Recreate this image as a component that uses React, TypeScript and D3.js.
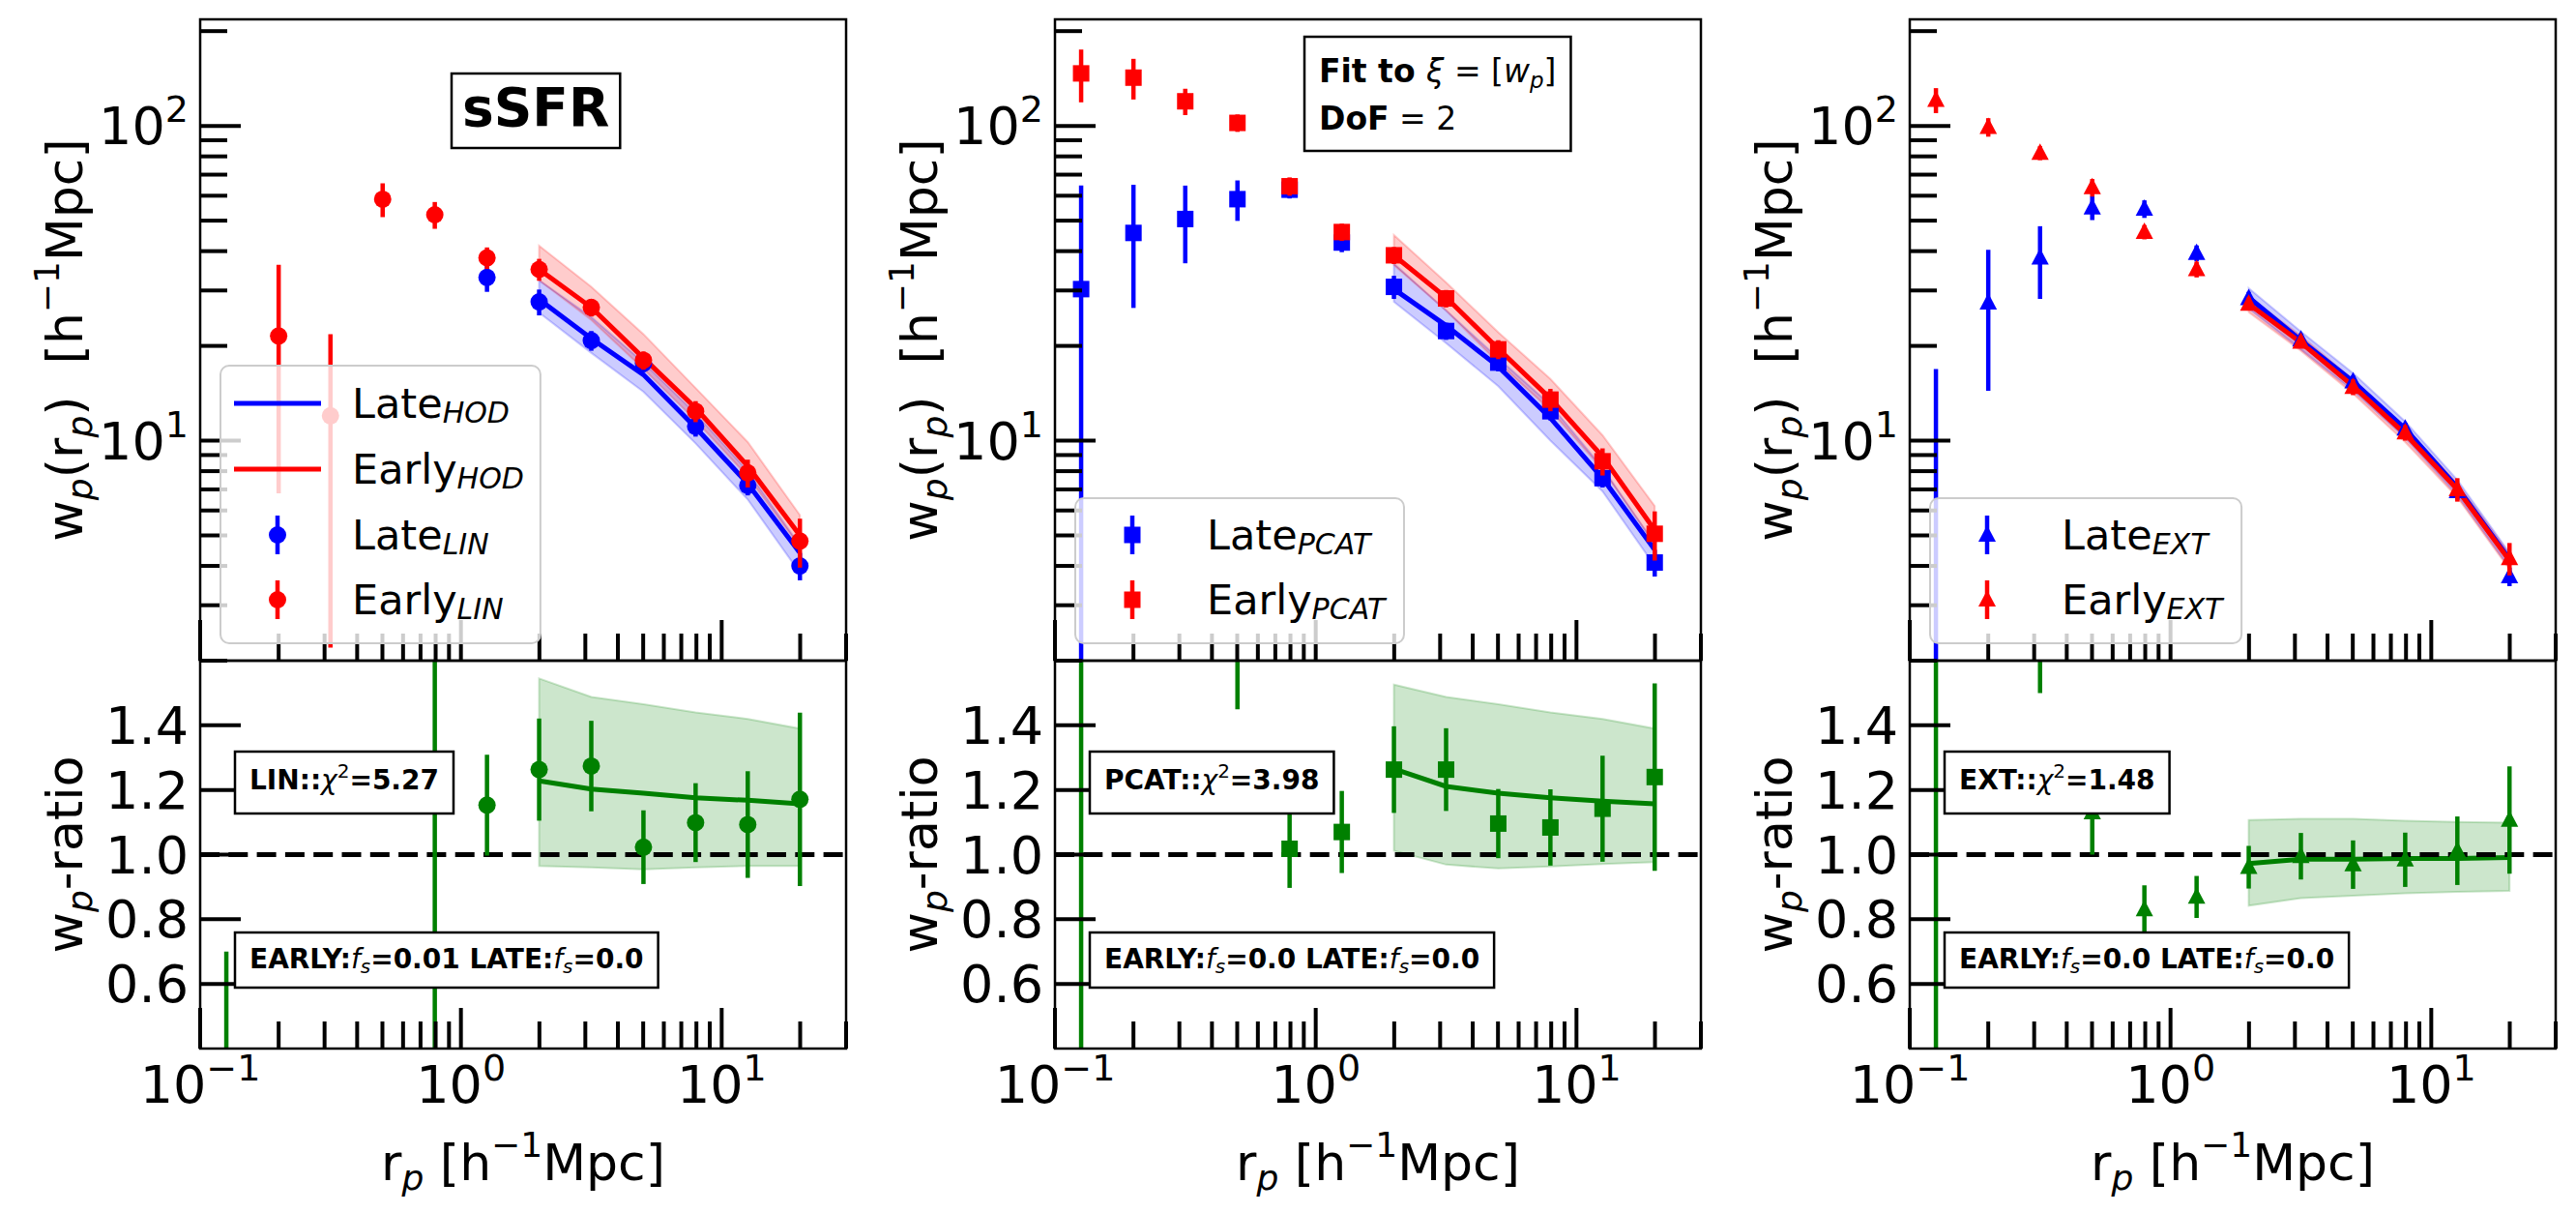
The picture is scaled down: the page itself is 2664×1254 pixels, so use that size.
import React, { useLayoutEffect, useRef, useState } from 'react';
import * as d3 from 'd3';

const FIG_W = 2664;
const FIG_H = 1254;
const FONT = "'DejaVu Sans', 'Liberation Sans', sans-serif";

// ---------------- data ----------------
const rp = [0.126, 0.2, 0.316, 0.501, 0.794, 1.259, 1.995, 3.162, 5.012, 7.943, 12.589, 19.953];
const rpModel = [1.995, 3.162, 5.012, 7.943, 12.589, 19.953];

// Panel 1 : sSFR / LIN
const linLateX = [1.259, 1.995, 3.162, 5.012, 7.943, 12.589, 19.953];
const linLateY = [33.0, 27.6, 20.8, 17.6, 11.1, 7.2, 4.0];
const linLateErr = [3.3, 2.6, 1.5, 1.1, 0.8, 0.5, 0.4];
const linEarlyX = [0.2, 0.316, 0.501, 0.794, 1.259, 1.995, 3.162, 5.012, 7.943, 12.589, 19.953];
const linEarlyY = [21.5, 12.0, 58.5, 52.2, 38.1, 35.0, 26.5, 18.0, 12.4, 7.9, 4.8];
const linEarlyErr = [14.7, 9.8, 7.2, 5.1, 3.0, 2.8, 1.7, 1.2, 0.95, 0.8, 0.85];
const linLateHod = [28.1, 21.1, 16.2, 11.0, 7.3, 4.4];
const linLateLo = [25.5, 19.0, 14.3, 9.8, 6.5, 3.8];
const linLateHi = [32.3, 24.7, 17.7, 12.2, 8.0, 4.65];
const linEarlyHod = [35.0, 26.5, 18.3, 12.7, 8.3, 5.0];
const linEarlyLo = [32.3, 24.2, 16.9, 11.6, 7.7, 4.6];
const linEarlyHi = [41.6, 30.8, 21.8, 14.7, 9.9, 5.8];
const linRatioX = [0.126, 0.794, 1.259, 1.995, 3.162, 5.012, 7.943, 12.589, 19.953];
const linRatioY = [0.3, 2.0, 1.153, 1.263, 1.274, 1.023, 1.099, 1.093, 1.171];
const linRatioErr = [0.4, 2.0, 0.156, 0.158, 0.14, 0.114, 0.122, 0.165, 0.268];
const linRatioModel = [1.228, 1.203, 1.19, 1.176, 1.168, 1.157];
const linRatioLo = [0.965, 0.96, 0.954, 0.96, 0.965, 0.965];
const linRatioHi = [1.545, 1.488, 1.465, 1.44, 1.42, 1.39];

// Panel 2 : PCAT
const pcatLateY = [30.3, 45.7, 50.6, 58.5, 62.7, 42.6, 30.8, 22.3, 17.7, 12.4, 7.6, 4.1];
const pcatLateErr = [34.4, 19.3, 14.0, 8.6, 3.9, 2.9, 2.6, 1.4, 1.1, 0.8, 0.5, 0.4];
const pcatEarlyY = [146.8, 142.3, 119.7, 102.2, 64.3, 46.0, 38.8, 28.3, 19.5, 13.5, 8.6, 5.06];
const pcatEarlyErr = [28.0, 21.0, 11.5, 6.5, 4.3, 2.9, 2.4, 1.8, 1.35, 1.1, 0.85, 0.9];
const pcatLateHod = [30.3, 23.2, 17.2, 11.8, 7.6, 4.5];
const pcatLateLo = [27.6, 20.4, 14.9, 10.0, 6.9, 4.0];
const pcatLateHi = [36.5, 25.9, 18.3, 13.0, 8.2, 4.7];
const pcatEarlyHod = [38.8, 28.5, 19.6, 13.6, 8.9, 5.2];
const pcatEarlyLo = [36.1, 25.9, 17.7, 12.5, 8.1, 4.7];
const pcatEarlyHi = [45.0, 31.8, 22.1, 15.7, 10.4, 6.2];
const pcatRatioY = [4.8, 3.1, 2.37, 1.75, 1.018, 1.07, 1.263, 1.263, 1.096, 1.084, 1.142, 1.24];
const pcatRatioErr = [4.6, 1.3, 0.7, 0.3, 0.121, 0.127, 0.134, 0.128, 0.107, 0.118, 0.164, 0.29];
const pcatRatioModel = [1.265, 1.211, 1.19, 1.176, 1.165, 1.157];
const pcatRatioLo = [1.012, 0.969, 0.957, 0.963, 0.971, 0.977];
const pcatRatioHi = [1.526, 1.488, 1.465, 1.44, 1.42, 1.39];

// Panel 3 : EXT
const extLateY = [1.5, 27.4, 38.1, 55.0, 54.5, 39.4, 28.3, 20.9, 15.4, 10.9, 6.9, 3.7];
const extLateErr = [15.4, 13.0, 9.9, 4.8, 3.5, 2.3, 1.4, 1.0, 0.7, 0.5, 0.4, 0.25];
const extEarlyY = [120.8, 99.1, 82.0, 63.7, 46.0, 35.0, 27.2, 20.6, 14.8, 10.6, 7.0, 4.23];
const extEarlyErr = [11.0, 6.7, 4.2, 4.1, 2.4, 2.0, 1.3, 0.9, 0.85, 0.6, 0.6, 0.5];
const extLateHod = [28.5, 20.8, 15.4, 10.9, 7.1, 4.2];
const extLateLo = [26.3, 19.5, 14.4, 10.2, 6.7, 3.95];
const extLateHi = [30.5, 22.2, 16.4, 11.5, 7.5, 4.4];
const extEarlyHod = [27.2, 20.5, 14.9, 10.5, 7.0, 4.16];
const extEarlyLo = [25.6, 19.3, 14.1, 9.9, 6.6, 3.9];
const extEarlyHi = [28.6, 21.5, 15.6, 11.0, 7.3, 4.35];
const extRatioY = [22.0, 3.6, 2.15, 1.13, 0.83, 0.869, 0.961, 0.995, 0.969, 0.984, 1.012, 1.107];
const extRatioErr = [21.8, 1.7, 0.65, 0.13, 0.075, 0.065, 0.066, 0.072, 0.075, 0.084, 0.106, 0.166];
const extRatioModel = [0.972, 0.986, 0.986, 0.988, 0.988, 0.991];
const extRatioLo = [0.842, 0.865, 0.873, 0.88, 0.885, 0.888];
const extRatioHi = [1.107, 1.111, 1.111, 1.105, 1.101, 1.099];

const xTickMajors = [0.1, 1, 10];
const xTickExps = ['\u22121', '0', '1'];
const yTopMajors = [10, 100];
const yTopExps = ['1', '2'];
const ratioTicks = [0.6, 0.8, 1.0, 1.2, 1.4];

// ---------------- layout ----------------
const PANEL_LEFTS = [207, 1091, 1975];
const PANEL_W = 668;
const TOP_Y = 20;
const MID_Y = 683;
const BOT_Y = 1084;
const X_DOMAIN: [number, number] = [0.1, 30];
const Y_TOP_DOMAIN: [number, number] = [2, 218];
const Y_RATIO_DOMAIN: [number, number] = [0.4, 1.6];
const TICK_FS = 54;
const SUP_FS = 38;
const LABEL_FS = 52;
const MAJOR_LEN = 42;
const MINOR_LEN = 28;
const TICK_W = 4;
const SPINE_W = 2.5;
const BOX_FS = 28;
const BOX_SUB_FS = 20;
const BLUE = '#0000ff';
const RED = '#ff0000';
const GREEN = '#008000';

type Shape = 'circle' | 'square' | 'triangle';

function Marker({ shape, cx, cy, color, s = 9 }: { shape: Shape; cx: number; cy: number; color: string; s?: number }) {
  if (shape === 'circle') return <circle cx={cx} cy={cy} r={s} fill={color} />;
  if (shape === 'square') return <rect x={cx - s + 0.5} y={cy - s + 0.5} width={2 * s - 1} height={2 * s - 1} fill={color} />;
  return <path d={`M${cx},${cy - s - 1}L${cx + s},${cy + s - 2}L${cx - s},${cy + s - 2}Z`} fill={color} />;
}

function ErrPts({ xs, ys, es, x, y, color, shape, logY }: any) {
  return (
    <g>
      {xs.map((xv: number, i: number) => {
        const lo = ys[i] - es[i];
        const hi = ys[i] + es[i];
        const y1 = y(logY ? Math.max(lo, 1e-4) : lo);
        const y2 = y(hi);
        return <line key={'e' + i} x1={x(xv)} x2={x(xv)} y1={y1} y2={y2} stroke={color} strokeWidth={4.5} />;
      })}
      {xs.map((xv: number, i: number) => (
        <Marker key={'m' + i} shape={shape} cx={x(xv)} cy={y(ys[i])} color={color} />
      ))}
    </g>
  );
}

// box whose width follows its text
function Boxed({ left, top, h, padR, children, stroke = 'black', fill = 'white', fillOpacity = 1, sw = 2.5, rx = 0 }: any) {
  const ref = useRef<SVGGElement>(null);
  const [w, setW] = useState<number | null>(null);
  useLayoutEffect(() => {
    if (ref.current) {
      const b = ref.current.getBBox();
      setW(b.x + b.width + padR - left);
    }
  }, []);
  return (
    <g>
      {w !== null && (
        <rect x={left} y={top} width={w} height={h} fill={fill} fillOpacity={fillOpacity} stroke={stroke} strokeWidth={sw} rx={rx} ry={rx} />
      )}
      <g ref={ref}>{children}</g>
    </g>
  );
}

type PanelCfg = {
  shape: Shape;
  lateX: number[]; lateY: number[]; lateErr: number[];
  earlyX: number[]; earlyY: number[]; earlyErr: number[];
  lateHod: number[]; lateLo: number[]; lateHi: number[];
  earlyHod: number[]; earlyLo: number[]; earlyHi: number[];
  ratioX: number[]; ratioY: number[]; ratioErr: number[];
  ratioModel: number[]; ratioLo: number[]; ratioHi: number[];
  tag: string; chi2: string; fsEarly: string; fsLate: string;
  fullLegend: boolean;
};

const panels: PanelCfg[] = [
  {
    shape: 'circle',
    lateX: linLateX, lateY: linLateY, lateErr: linLateErr,
    earlyX: linEarlyX, earlyY: linEarlyY, earlyErr: linEarlyErr,
    lateHod: linLateHod, lateLo: linLateLo, lateHi: linLateHi,
    earlyHod: linEarlyHod, earlyLo: linEarlyLo, earlyHi: linEarlyHi,
    ratioX: linRatioX, ratioY: linRatioY, ratioErr: linRatioErr,
    ratioModel: linRatioModel, ratioLo: linRatioLo, ratioHi: linRatioHi,
    tag: 'LIN', chi2: '5.27', fsEarly: '0.01', fsLate: '0.0', fullLegend: true,
  },
  {
    shape: 'square',
    lateX: rp, lateY: pcatLateY, lateErr: pcatLateErr,
    earlyX: rp, earlyY: pcatEarlyY, earlyErr: pcatEarlyErr,
    lateHod: pcatLateHod, lateLo: pcatLateLo, lateHi: pcatLateHi,
    earlyHod: pcatEarlyHod, earlyLo: pcatEarlyLo, earlyHi: pcatEarlyHi,
    ratioX: rp, ratioY: pcatRatioY, ratioErr: pcatRatioErr,
    ratioModel: pcatRatioModel, ratioLo: pcatRatioLo, ratioHi: pcatRatioHi,
    tag: 'PCAT', chi2: '3.98', fsEarly: '0.0', fsLate: '0.0', fullLegend: false,
  },
  {
    shape: 'triangle',
    lateX: rp, lateY: extLateY, lateErr: extLateErr,
    earlyX: rp, earlyY: extEarlyY, earlyErr: extEarlyErr,
    lateHod: extLateHod, lateLo: extLateLo, lateHi: extLateHi,
    earlyHod: extEarlyHod, earlyLo: extEarlyLo, earlyHi: extEarlyHi,
    ratioX: rp, ratioY: extRatioY, ratioErr: extRatioErr,
    ratioModel: extRatioModel, ratioLo: extRatioLo, ratioHi: extRatioHi,
    tag: 'EXT', chi2: '1.48', fsEarly: '0.0', fsLate: '0.0', fullLegend: false,
  },
];

function Legend({ left, cfg }: { left: number; cfg: PanelCfg }) {
  const bx = left + 21;
  const entries: { kind: 'line' | 'pt'; color: string; main: string; sub: string }[] = cfg.fullLegend
    ? [
        { kind: 'line', color: BLUE, main: 'Late', sub: 'HOD' },
        { kind: 'line', color: RED, main: 'Early', sub: 'HOD' },
        { kind: 'pt', color: BLUE, main: 'Late', sub: cfg.tag },
        { kind: 'pt', color: RED, main: 'Early', sub: cfg.tag },
      ]
    : [
        { kind: 'pt', color: BLUE, main: 'Late', sub: cfg.tag },
        { kind: 'pt', color: RED, main: 'Early', sub: cfg.tag },
      ];
  const rowsY = cfg.fullLegend ? [417, 485, 553, 620] : [553, 620];
  const top = cfg.fullLegend ? 378 : 515;
  const h = 665 - top;
  return (
    <Boxed left={bx} top={top} h={h} padR={17} stroke="#cccccc" fill="white" fillOpacity={0.8} sw={2} rx={9}>
      {entries.map((e, i) => (
        <g key={i}>
          {e.kind === 'line' ? (
            <line x1={bx + 14} x2={bx + 104} y1={rowsY[i]} y2={rowsY[i]} stroke={e.color} strokeWidth={5} />
          ) : (
            <g>
              <line x1={bx + 59} x2={bx + 59} y1={rowsY[i] - 20} y2={rowsY[i] + 20} stroke={e.color} strokeWidth={4.5} />
              <Marker shape={cfg.shape} cx={bx + 59} cy={rowsY[i]} color={e.color} />
            </g>
          )}
          <text x={bx + 136} y={rowsY[i] + 15} fontSize={43} fontFamily={FONT}>
            {e.main}
            <tspan fontSize={30} fontStyle="italic" dy={5}>{e.sub}</tspan>
          </text>
        </g>
      ))}
    </Boxed>
  );
}

function Panel({ idx, cfg }: { idx: number; cfg: PanelCfg }) {
  const left = PANEL_LEFTS[idx];
  const right = left + PANEL_W;
  const x = d3.scaleLog().domain(X_DOMAIN).range([left, right]);
  const yT = d3.scaleLog().domain(Y_TOP_DOMAIN).range([MID_Y, TOP_Y]);
  const yR = d3.scaleLinear().domain(Y_RATIO_DOMAIN).range([BOT_Y, MID_Y]);

  const band = (lo: number[], hi: number[], y: any) =>
    d3.area<number>().x((d) => x(d)).y0((_, i) => y(lo[i])).y1((_, i) => y(hi[i]))(rpModel) || '';
  const line = (vals: number[], y: any) =>
    d3.line<number>().x((d) => x(d)).y((_, i) => y(vals[i]))(rpModel) || '';

  const xTicks = x.ticks();
  const isMaj = (t: number) => Math.abs(Math.log10(t) - Math.round(Math.log10(t))) < 1e-6;
  const yTicks = yT.ticks();
  const clipT = `clipT${idx}`;
  const clipR = `clipR${idx}`;
  const cx = (left + right) / 2;

  return (
    <g fontFamily={FONT}>
      <defs>
        <clipPath id={clipT}><rect x={left} y={TOP_Y} width={PANEL_W} height={MID_Y - TOP_Y} /></clipPath>
        <clipPath id={clipR}><rect x={left} y={MID_Y} width={PANEL_W} height={BOT_Y - MID_Y} /></clipPath>
      </defs>

      {/* ---- top panel data ---- */}
      <g clipPath={`url(#${clipT})`}>
        <path d={band(cfg.lateLo, cfg.lateHi, yT)} fill={BLUE} fillOpacity={0.2} stroke={BLUE} strokeOpacity={0.2} strokeWidth={2} />
        <path d={band(cfg.earlyLo, cfg.earlyHi, yT)} fill={RED} fillOpacity={0.2} stroke={RED} strokeOpacity={0.2} strokeWidth={2} />
        <path d={line(cfg.lateHod, yT)} fill="none" stroke={BLUE} strokeWidth={5} />
        <path d={line(cfg.earlyHod, yT)} fill="none" stroke={RED} strokeWidth={5} />
        <ErrPts xs={cfg.lateX} ys={cfg.lateY} es={cfg.lateErr} x={x} y={yT} color={BLUE} shape={cfg.shape} logY />
        <ErrPts xs={cfg.earlyX} ys={cfg.earlyY} es={cfg.earlyErr} x={x} y={yT} color={RED} shape={cfg.shape} logY />
      </g>

      {/* ---- ratio panel data ---- */}
      <g clipPath={`url(#${clipR})`}>
        <path d={band(cfg.ratioLo, cfg.ratioHi, yR)} fill={GREEN} fillOpacity={0.2} stroke={GREEN} strokeOpacity={0.2} strokeWidth={2} />
        <path d={line(cfg.ratioModel, yR)} fill="none" stroke={GREEN} strokeWidth={5} />
        <line x1={left} x2={right} y1={yR(1)} y2={yR(1)} stroke="black" strokeWidth={5} strokeDasharray="20 9.3" />
        <ErrPts xs={cfg.ratioX} ys={cfg.ratioY} es={cfg.ratioErr} x={x} y={yR} color={GREEN} shape={cfg.shape} />
      </g>

      {/* ---- ticks ---- */}
      {xTicks.map((t, i) => {
        const len = isMaj(t) ? MAJOR_LEN : MINOR_LEN;
        return (
          <g key={'xt' + i}>
            <line x1={x(t)} x2={x(t)} y1={MID_Y} y2={MID_Y - len} stroke="black" strokeWidth={TICK_W} />
            <line x1={x(t)} x2={x(t)} y1={BOT_Y} y2={BOT_Y - len} stroke="black" strokeWidth={TICK_W} />
          </g>
        );
      })}
      {yTicks.map((t, i) => {
        const len = isMaj(t) ? MAJOR_LEN : MINOR_LEN;
        return <line key={'yt' + i} x1={left} x2={left + len} y1={yT(t)} y2={yT(t)} stroke="black" strokeWidth={TICK_W} />;
      })}
      {ratioTicks.map((t, i) => (
        <line key={'rt' + i} x1={left} x2={left + MAJOR_LEN} y1={yR(t)} y2={yR(t)} stroke="black" strokeWidth={TICK_W} />
      ))}

      {/* ---- spines ---- */}
      <rect x={left} y={TOP_Y} width={PANEL_W} height={MID_Y - TOP_Y} fill="none" stroke="black" strokeWidth={SPINE_W} />
      <rect x={left} y={MID_Y} width={PANEL_W} height={BOT_Y - MID_Y} fill="none" stroke="black" strokeWidth={SPINE_W} />

      {/* ---- tick labels ---- */}
      {yTopMajors.map((t, i) => (
        <text key={'ytl' + i} x={left - 12} y={yT(t) + 19} textAnchor="end" fontSize={TICK_FS}>
          10<tspan fontSize={SUP_FS} dy={-23}>{yTopExps[i]}</tspan>
        </text>
      ))}
      {ratioTicks.map((t, i) => (
        <text key={'rtl' + i} x={left - 12} y={yR(t) + 19} textAnchor="end" fontSize={TICK_FS}>
          {d3.format('.1f')(t)}
        </text>
      ))}
      {xTickMajors.map((t, i) => (
        <text key={'xtl' + i} x={x(t)} y={1140} textAnchor="middle" fontSize={TICK_FS}>
          10<tspan fontSize={SUP_FS} dy={-23}>{xTickExps[i]}</tspan>
        </text>
      ))}

      {/* ---- axis labels ---- */}
      <text transform={`translate(${left - 122},${(TOP_Y + MID_Y) / 2}) rotate(-90)`} textAnchor="middle" fontSize={LABEL_FS} style={{ whiteSpace: 'pre' }}>
        w<tspan fontSize={36} fontStyle="italic" dy={10}>p</tspan>
        <tspan dy={-10}>(r</tspan>
        <tspan fontSize={36} fontStyle="italic" dy={10}>p</tspan>
        <tspan dy={-10}>)  [h</tspan>
        <tspan fontSize={36} dy={-24}>{'\u22121'}</tspan>
        <tspan dy={24}>Mpc]</tspan>
      </text>
      <text transform={`translate(${left - 122},${(MID_Y + BOT_Y) / 2}) rotate(-90)`} textAnchor="middle" fontSize={LABEL_FS}>
        w<tspan fontSize={36} fontStyle="italic" dy={10}>p</tspan>
        <tspan dy={-10}>-ratio</tspan>
      </text>
      <text x={cx} y={1220} textAnchor="middle" fontSize={LABEL_FS} style={{ whiteSpace: 'pre' }}>
        r<tspan fontSize={36} fontStyle="italic" dy={10}>p</tspan>
        <tspan dy={-10}> [h</tspan>
        <tspan fontSize={36} dy={-24}>{'\u22121'}</tspan>
        <tspan dy={24}>Mpc]</tspan>
      </text>

      {/* ---- legend ---- */}
      <Legend left={left} cfg={cfg} />

      {/* ---- ratio text boxes ---- */}
      <Boxed left={left + 36} top={777} h={64} padR={15}>
        <text x={left + 51} y={816} fontSize={BOX_FS} fontWeight="bold">
          {cfg.tag}::
          <tspan fontStyle="italic" fontWeight="normal">{'\u03c7'}</tspan>
          <tspan fontSize={BOX_SUB_FS} fontWeight="normal" dy={-12}>2</tspan>
          <tspan dy={12}>={cfg.chi2}</tspan>
        </text>
      </Boxed>
      <Boxed left={left + 36} top={964} h={57} padR={15}>
        <text x={left + 51} y={1001} fontSize={BOX_FS} fontWeight="bold">
          EARLY:
          <tspan fontStyle="italic" fontWeight="normal">f</tspan>
          <tspan fontSize={BOX_SUB_FS} fontStyle="italic" fontWeight="normal" dy={5}>s</tspan>
          <tspan dy={-5}>={cfg.fsEarly} LATE:</tspan>
          <tspan fontStyle="italic" fontWeight="normal">f</tspan>
          <tspan fontSize={BOX_SUB_FS} fontStyle="italic" fontWeight="normal" dy={5}>s</tspan>
          <tspan dy={-5}>={cfg.fsLate}</tspan>
        </text>
      </Boxed>
    </g>
  );
}

export default function App() {
  const p1 = PANEL_LEFTS[0];
  const p2 = PANEL_LEFTS[1];
  return (
    <svg
      width={FIG_W}
      height={FIG_H}
      viewBox={`0 0 ${FIG_W} ${FIG_H}`}
      style={{ position: 'absolute', left: 0, top: 0, display: 'block', background: 'white' }}
      fontFamily={FONT}
    >
      <rect x={0} y={0} width={FIG_W} height={FIG_H} fill="white" />
      {panels.map((cfg, i) => (
        <Panel key={i} idx={i} cfg={cfg} />
      ))}
      {/* sSFR label */}
      <Boxed left={p1 + 260} top={76} h={77} padR={11}>
        <text x={p1 + 271} y={130} fontSize={55} fontWeight="bold">sSFR</text>
      </Boxed>
      {/* Fit description */}
      <Boxed left={p2 + 258} top={38} h={118} padR={15}>
        <text x={p2 + 273} y={85} fontSize={33} style={{ whiteSpace: 'pre' }}>
          <tspan fontWeight="bold">Fit to </tspan>
          <tspan fontStyle="italic">{'\u03be'}</tspan>
          <tspan>{' = ['}</tspan>
          <tspan fontStyle="italic">w</tspan>
          <tspan fontSize={23} fontStyle="italic" dy={6}>p</tspan>
          <tspan dy={-6}>]</tspan>
        </text>
        <text x={p2 + 273} y={134} fontSize={33} style={{ whiteSpace: 'pre' }}>
          <tspan fontWeight="bold">DoF</tspan>
          <tspan>{' = 2'}</tspan>
        </text>
      </Boxed>
    </svg>
  );
}
